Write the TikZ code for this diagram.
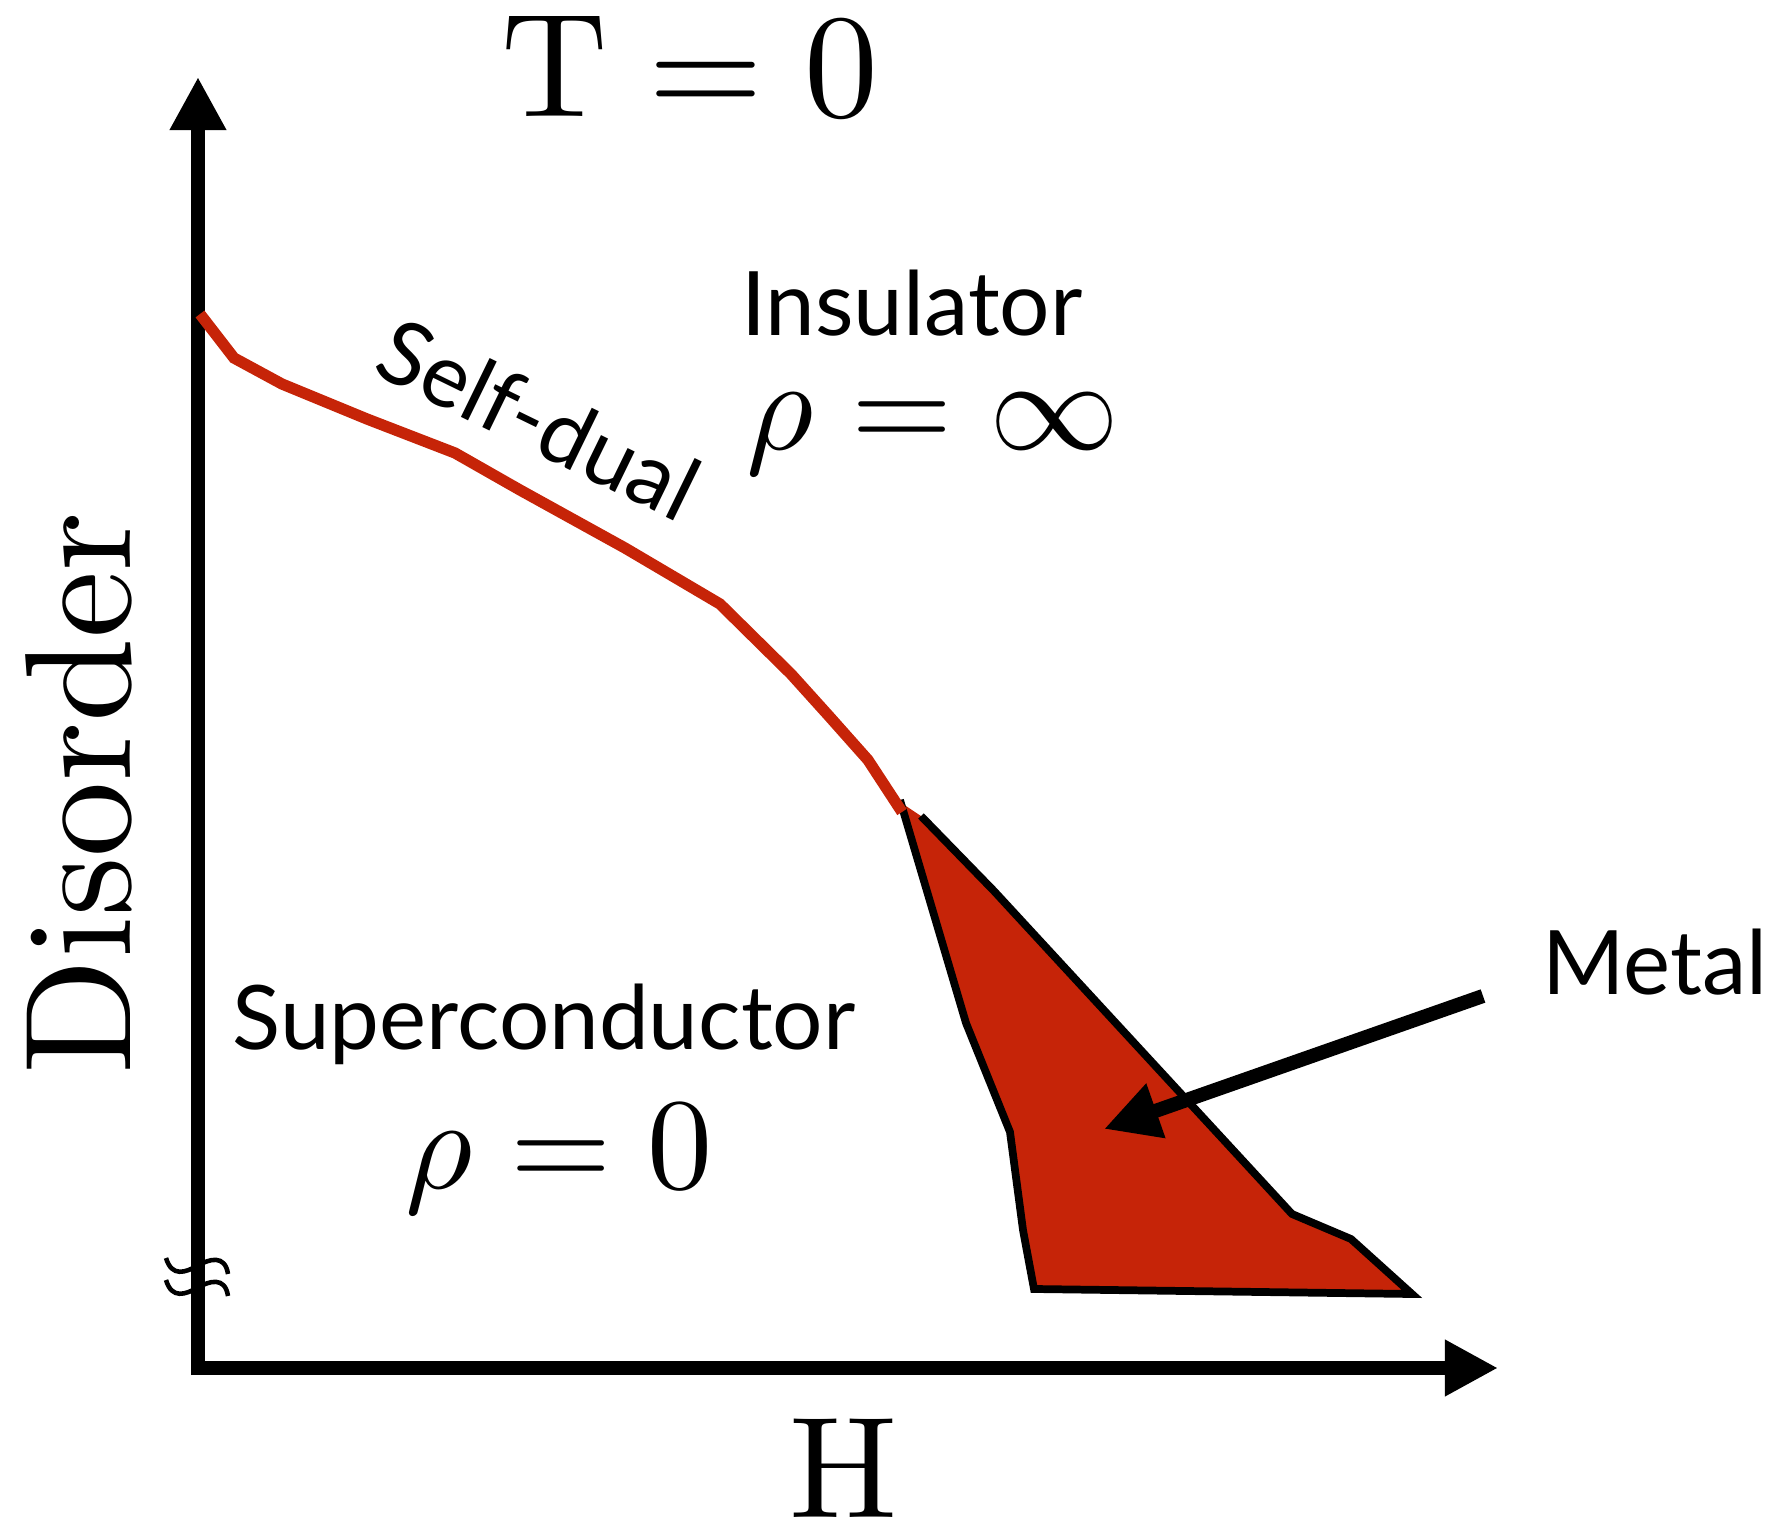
\documentclass[tikz,border=0pt]{standalone}
\usepackage{fontspec}
\usepackage{unicode-math}
\newfontfamily\phasefont{Lato}
\newfontfamily\serifbig{lmroman10-regular}[Extension=.otf]
\usetikzlibrary{arrows.meta}
\definecolor{metalred}{RGB}{198,36,8}

\begin{document}
\begin{tikzpicture}[x=0.01cm, y=-0.01cm,
    axis/.style={line width=3.7pt, -{Triangle[length=0.53cm, width=0.53cm]}},
    phase/.style={inner sep=0pt, font=\phasefont\fontsize{25.3}{30}\selectfont},
    serif/.style={inner sep=0pt, font=\serifbig\fontsize{42}{48}\selectfont},
    rho/.style={inner sep=0pt, font=\fontsize{37}{44}\selectfont}]
  \useasboundingbox (0,0) rectangle (1771,1527);

  % axes
  \coordinate (origin) at (198,1368);
  \coordinate (ytip) at (198,77);
  \coordinate (xtip) at (1498,1368);
  \draw[axis] (198,1375) -- (ytip);
  \draw[axis] (192,1368) -- (xtip);

  % axis break
  \foreach \y in {0,22}{
    \begin{scope}[shift={(0,\y)}]
      \draw[line width=1.3pt] (166,1258) .. controls (172,1278) and (186,1272) .. (197,1266)
        .. controls (209,1259) and (225,1254) .. (228,1274);
    \end{scope}
  }

  % metallic region
  \fill[metalred] (900,802) -- (966,1023) -- (1010,1132) -- (1023,1230) -- (1034,1289)
    -- (1412,1294) -- (1351,1239) -- (1292,1214) -- (994,891) -- (921,816) -- cycle;
  \draw[line width=2.2pt, line join=miter] (900,800) -- (966,1023) -- (1010,1132) -- (1023,1230)
    -- (1034,1289) -- (1412,1294) -- (1351,1239) -- (1292,1214) -- (994,891) -- (921,816);

  % self-dual line
  \draw[metalred, line width=3.2pt] (200,314) -- (234,358) -- (282,384) -- (367,419) -- (455,453)
    -- (520,490) -- (625,548) -- (720,604) -- (791,674) -- (828,715) -- (868,760) -- (902,812);

  % labels
  \node[serif] (tzero) at (690,68) {$\symup{T}=0$};
  \node[serif, font=\serifbig\fontsize{41}{48}\selectfont] (hlabel) at (844,1468) {H};
  \node[serif, rotate=90, font=\serifbig\fontsize{43}{48}\selectfont] (disorder) at (79,793) {Disorder};
  \node[phase] (insulator) at (912,303) {Insulator};
  \node[rho] (rhoinf) at (933,435) {$\rho=\infty$};
  \node[phase] (sc) at (544,1024) {Superconductor};
  \node[rho] (rhozero) at (559,1159) {$\rho=0$};
  \node[phase, rotate=-26] (selfdual) at (539,419) {Self-dual};
  \node[phase] (metal) at (1655,962) {Metal};

  \coordinate (metaltail) at (1483,996);
  \coordinate (metaltip) at (1104,1129);
  \draw[line width=4pt, -{Triangle[length=0.55cm, width=0.54cm]}] (metaltail) -- (metaltip);
\end{tikzpicture}
\end{document}
